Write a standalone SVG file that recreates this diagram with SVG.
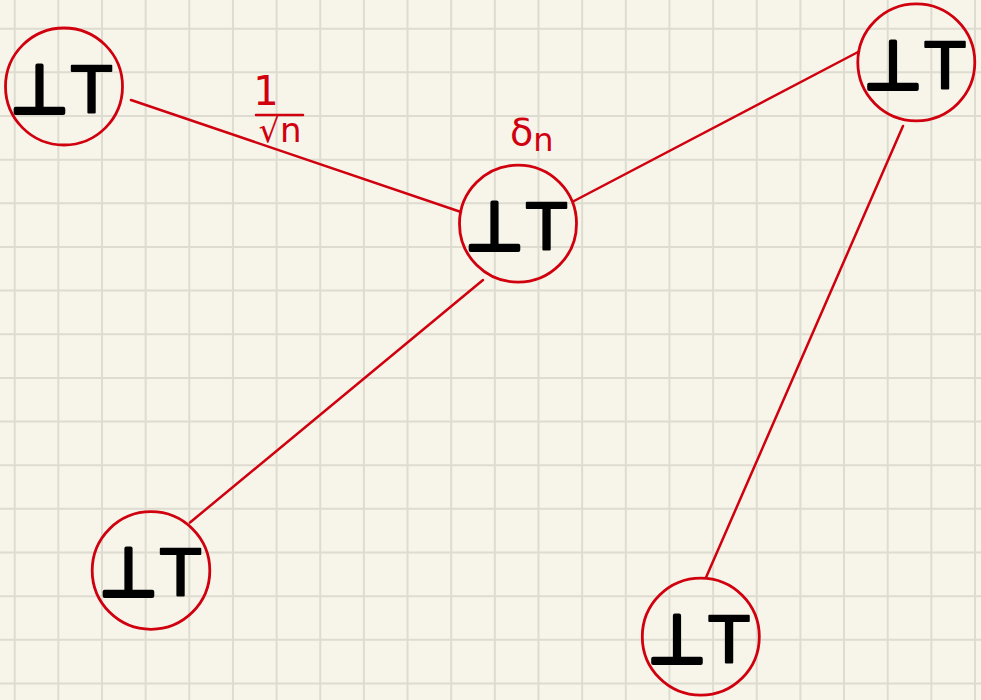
<svg xmlns="http://www.w3.org/2000/svg" width="981" height="700" viewBox="0 0 981 700">
  <style>
    .grid { stroke: #dedcd0; stroke-width: 2; fill: none; }
    .edge { stroke: #d0000f; stroke-width: 2.5; fill: none; stroke-linecap: round; }
    .ring { stroke: #d0000f; stroke-width: 2.8; fill: none; }
    .sym { font-family: "DejaVu Sans", "Liberation Sans", sans-serif; font-size: 64px; fill: #000; stroke: #000; stroke-width: 2; stroke-linejoin: round; stroke-linecap: round; text-anchor: middle; letter-spacing: 3px; }
    .up { font-size: 68px; stroke-width: 4; }
    .lbl { font-family: "DejaVu Sans", "Liberation Sans", sans-serif; fill: #d0000f; }
  </style>
  <rect width="981" height="700" fill="#f7f5ea"/>
  <path class="grid" d="M14.7 0V700M58.35 0V700M102 0V700M145.65 0V700M189.3 0V700M232.95 0V700M276.6 0V700M320.25 0V700M363.9 0V700M407.55 0V700M451.2 0V700M494.85 0V700M538.5 0V700M582.15 0V700M625.8 0V700M669.45 0V700M713.1 0V700M756.75 0V700M800.4 0V700M844.05 0V700M887.7 0V700M931.35 0V700M975 0V700M0 28.7H981M0 72.35H981M0 116H981M0 159.65H981M0 203.3H981M0 246.95H981M0 290.6H981M0 334.25H981M0 377.9H981M0 421.55H981M0 465.2H981M0 508.85H981M0 552.5H981M0 596.15H981M0 639.8H981M0 683.45H981"/>
  <g id="edges">
    <line class="edge" x1="131" y1="100" x2="461" y2="212"/>
    <line class="edge" x1="574" y1="201" x2="859" y2="51.5"/>
    <line class="edge" x1="483" y1="280" x2="190" y2="522.5"/>
    <line class="edge" x1="903" y1="126" x2="706" y2="577.5"/>
  </g>
  <g id="node1">
    <circle class="ring" cx="64" cy="86.5" r="58.5"/>
    <text class="sym" x="62" y="112.5"><tspan class="up">⊥</tspan>T</text>
  </g>
  <g id="node2">
    <circle class="ring" cx="518" cy="223.7" r="58.5"/>
    <text class="sym" x="517" y="250"><tspan class="up">⊥</tspan>T</text>
  </g>
  <g id="node3">
    <circle class="ring" cx="916.3" cy="62.3" r="58.5"/>
    <text class="sym" x="915.5" y="89"><tspan class="up">⊥</tspan>T</text>
  </g>
  <g id="node4">
    <circle class="ring" cx="151" cy="570.5" r="58.8"/>
    <text class="sym" x="151" y="595.5"><tspan class="up">⊥</tspan>T</text>
  </g>
  <g id="node5">
    <circle class="ring" cx="700.8" cy="636.7" r="58.5"/>
    <text class="sym" x="699.5" y="663"><tspan class="up">⊥</tspan>T</text>
  </g>
  <g id="labels">
    <text class="lbl" x="266" y="105" font-size="40" text-anchor="middle">1</text>
    <line class="edge" x1="256" y1="115" x2="303" y2="115"/>
    <text class="lbl" x="280" y="142" font-size="34" text-anchor="middle">√n</text>
    <text class="lbl" x="510" y="145" font-size="38">δ<tspan dy="6" font-size="32">n</tspan></text>
  </g>
</svg>
